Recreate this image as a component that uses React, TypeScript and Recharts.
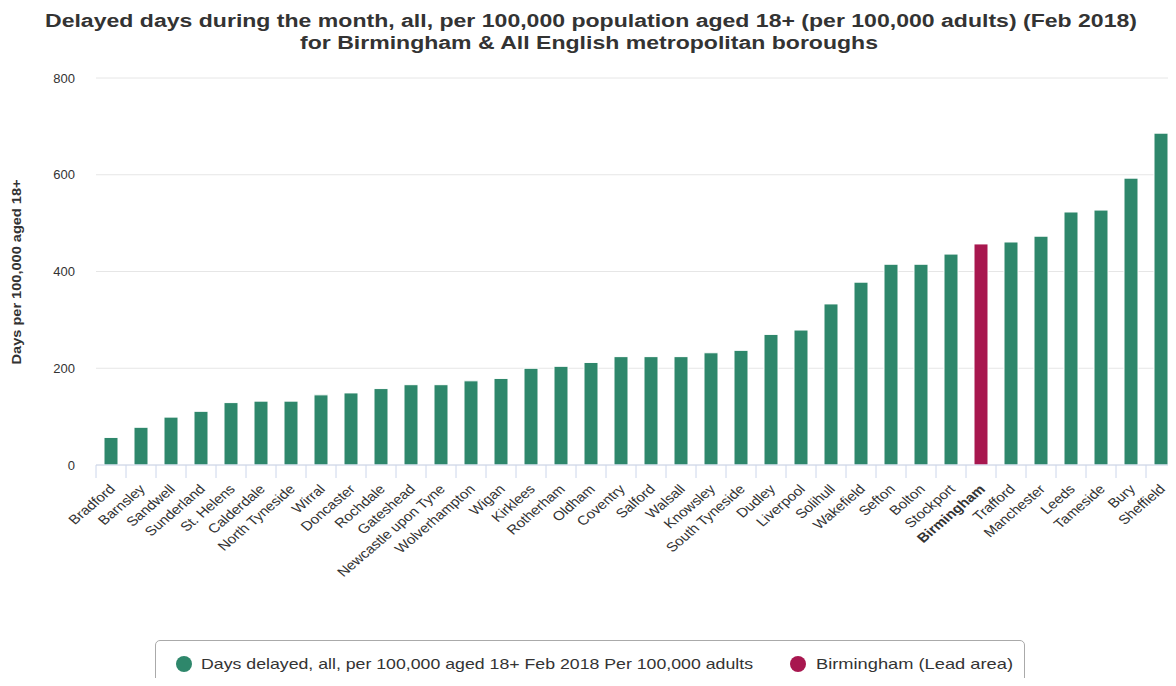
import React from "react";
import { BarChart, Bar, XAxis, YAxis, CartesianGrid, Cell } from "recharts";

const categories = [
  "Bradford", "Barnsley", "Sandwell", "Sunderland", "St. Helens", "Calderdale",
  "North Tyneside", "Wirral", "Doncaster", "Rochdale", "Gateshead",
  "Newcastle upon Tyne", "Wolverhampton", "Wigan", "Kirklees", "Rotherham",
  "Oldham", "Coventry", "Salford", "Walsall", "Knowsley", "South Tyneside",
  "Dudley", "Liverpool", "Solihull", "Wakefield", "Sefton", "Bolton",
  "Stockport", "Birmingham", "Trafford", "Manchester", "Leeds", "Tameside",
  "Bury", "Sheffield",
];

const values = [
  57, 78, 99, 111, 129, 132, 132, 145, 149, 158, 166, 166, 174, 179, 200, 204,
  212, 224, 224, 224, 232, 237, 270, 279, 333, 378, 415, 415, 436, 457, 461,
  473, 523, 527, 593, 686,
];

const yTicks = [0, 200, 400, 600, 800];

const leadArea = "Birmingham";
const seriesName = "Days delayed, all, per 100,000 aged 18+ Feb 2018 Per 100,000 adults";
const leadName = "Birmingham (Lead area)";
const titleLine1 = "Delayed days during the month, all, per 100,000 population aged 18+ (per 100,000 adults) (Feb 2018)";
const titleLine2 = "for Birmingham & All English metropolitan boroughs";
const yAxisTitle = "Days per 100,000 aged 18+";

const GREEN = "#2e876b";
const MAGENTA = "#a8174f";
const FONT = "Liberation Sans, Arial, sans-serif";

const data = categories.map((c, i) => ({ name: c, value: values[i] }));

const W = 1176;
const H = 686;
const PLOT_LEFT = 96;
const PLOT_RIGHT = 0;
const STEP = (W - PLOT_LEFT - PLOT_RIGHT) / categories.length;

const XTick = (props: any) => {
  const { x, y, payload, index } = props;
  const isLead = payload.value === leadArea;
  const half = STEP / 2;
  const ax = x + 5;
  const ay = y + 25;
  return (
    <g>
      <line x1={x - half} y1={y} x2={x - half} y2={y + 13} stroke="#ccd6eb" strokeWidth={1} />
      {index === categories.length - 1 && (
        <line x1={x + half} y1={y} x2={x + half} y2={y + 13} stroke="#ccd6eb" strokeWidth={1} />
      )}
      <text
        x={0}
        y={0}
        textAnchor="end"
        transform={`translate(${ax}, ${ay}) scale(1.17, 1) rotate(-45)`}
        fontSize={13}
        fontFamily={FONT}
        fontWeight={isLead ? "bold" : "normal"}
        fill="#333333"
      >
        {payload.value}
      </text>
    </g>
  );
};

const YLabel = () => {
  const cx = 17;
  const cy = 272;
  return (
    <text
      x={cx}
      y={cy}
      textAnchor="middle"
      dominantBaseline="central"
      transform={`rotate(-90, ${cx}, ${cy})`}
      fontSize={12}
      fontWeight="bold"
      fontFamily={FONT}
      fill="#333333"
      textLength={185}
      lengthAdjust="spacingAndGlyphs"
    >
      {yAxisTitle}
    </text>
  );
};

export default function App() {
  return (
    <div style={{ position: "relative", width: W, height: H, margin: -8, background: "#ffffff", overflow: "hidden" }}>
      <svg width={W} height={60} style={{ position: "absolute", left: 0, top: 0 }}>
        <text
          x={591}
          y={27}
          textAnchor="middle"
          fontSize={18}
          fontWeight="bold"
          fontFamily={FONT}
          fill="#333333"
          textLength={1092}
          lengthAdjust="spacingAndGlyphs"
        >
          {titleLine1}
        </text>
        <text
          x={589}
          y={49}
          textAnchor="middle"
          fontSize={18}
          fontWeight="bold"
          fontFamily={FONT}
          fill="#333333"
          textLength={578}
          lengthAdjust="spacingAndGlyphs"
        >
          {titleLine2}
        </text>
      </svg>
      <div style={{ position: "absolute", left: 0, top: 0 }}>
        <BarChart
          width={W}
          height={H}
          data={data}
          margin={{ top: 78, right: PLOT_RIGHT, bottom: 0, left: 0 }}
          barCategoryGap={0}
        >
          <CartesianGrid horizontal={true} vertical={false} stroke="#e6e6e6" strokeWidth={1} />
          <XAxis
            dataKey="name"
            interval={0}
            height={221}
            tickLine={false}
            tickSize={0}
            tickMargin={0}
            axisLine={{ stroke: "#ccd6eb", strokeWidth: 1 }}
            tick={<XTick />}
          />
          <YAxis
            width={PLOT_LEFT}
            domain={[0, 800]}
            ticks={yTicks}
            interval={0}
            axisLine={false}
            tickLine={false}
            tickSize={0}
            tickMargin={21}
            tick={{ fontSize: 13, fill: "#333333", fontFamily: FONT }}
            label={<YLabel />}
          />
          <Bar dataKey="value" barSize={14} stroke="#ffffff" strokeWidth={1} isAnimationActive={false}>
            {data.map((d) => (
              <Cell key={d.name} fill={d.name === leadArea ? MAGENTA : GREEN} />
            ))}
          </Bar>
        </BarChart>
      </div>
      <div
        style={{
          position: "absolute",
          left: 155,
          top: 640,
          width: 870,
          height: 44,
          border: "1px solid #aaaaaa",
          borderRadius: 5,
          boxSizing: "border-box",
        }}
      >
        <svg width={868} height={42} style={{ position: "absolute", left: 0, top: 0 }}>
          <circle cx={28} cy={23} r={8} fill={GREEN} />
          <text x={45} y={28} fontSize={15} fontFamily={FONT} fill="#333333" textLength={552} lengthAdjust="spacingAndGlyphs">
            {seriesName}
          </text>
          <circle cx={642} cy={23} r={8} fill={MAGENTA} />
          <text x={660} y={28} fontSize={15} fontFamily={FONT} fill="#333333" textLength={197} lengthAdjust="spacingAndGlyphs">
            {leadName}
          </text>
        </svg>
      </div>
    </div>
  );
}
